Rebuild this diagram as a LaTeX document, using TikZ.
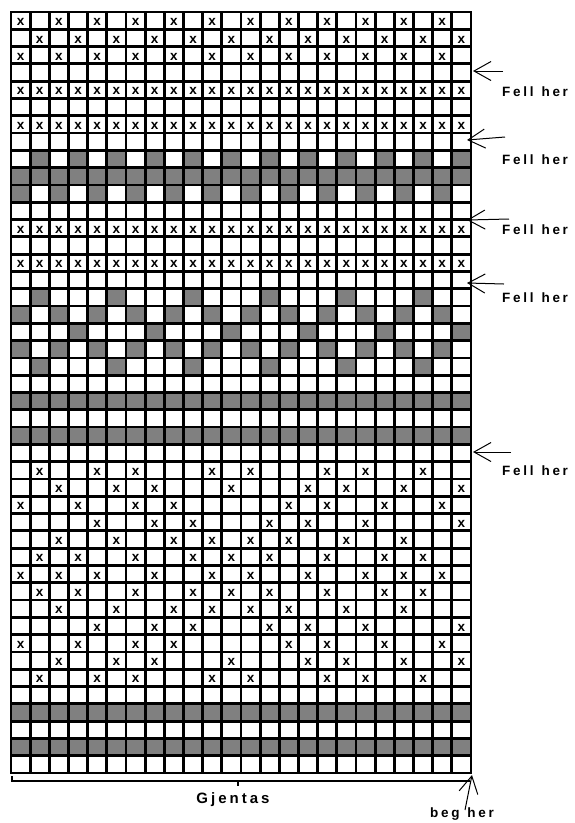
\documentclass[tikz,border=0pt]{standalone}
\usepackage{fontspec}
\setmainfont{Liberation Sans}
\newfontfamily\spaced{Liberation Sans}[LetterSpace=20]
\usetikzlibrary{arrows.meta}
\definecolor{cellgray}{HTML}{808080}
\def\xo{11}\def\yo{12}\def\cw{19.1667}\def\rh{17.295}
\begin{document}
\begin{tikzpicture}[x=1pt,y=-1pt,
  gridline/.style={line width=2.8pt,line cap=rect},
  xmark/.style={font=\bfseries\fontsize{13.5}{13.5}\selectfont,inner sep=0pt},
  lab/.style={font=\spaced\bfseries\fontsize{13.5}{13.5}\selectfont,inner sep=0pt},
  fellarrow/.style={line width=1pt,-{Straight Barb[length=17pt,width=19pt,line width=1pt]}},
  bracket/.style={line width=1.3pt}]
\useasboundingbox (0,0) rectangle (575,823);
\fill[white] (0,0) rectangle (575,823);
% gray cells
\foreach \r/\cl in {9/{2,4,...,24},10/{1,...,24},11/{1,3,...,23},
  17/{2,6,...,22},18/{1,3,...,23},19/{4,8,...,24},20/{1,3,...,23},21/{2,6,...,22},
  23/{1,...,24},25/{1,...,24},41/{1,...,24},43/{1,...,24}}
  \foreach \c in \cl
    \fill[cellgray] ({\xo+(\c-1)*\cw},{\yo+(\r-1)*\rh}) rectangle ++(\cw,\rh);
% x marks
\foreach \r/\cl in {1/{1,3,...,23},2/{2,4,...,24},3/{1,3,...,23},
  5/{1,...,24},7/{1,...,24},13/{1,...,24},15/{1,...,24},
  27/{2,5,7,11,13,17,19,22},28/{3,6,8,12,16,18,21,24},29/{1,4,7,9,15,17,20,23},
  30/{5,8,10,14,16,19,24},31/{3,6,9,11,13,15,18,21},32/{2,4,7,10,12,14,17,20,22},
  33/{1,3,5,8,11,13,16,19,21,23},34/{2,4,7,10,12,14,17,20,22},35/{3,6,9,11,13,15,18,21},
  36/{5,8,10,14,16,19,24},37/{1,4,7,9,15,17,20,23},38/{3,6,8,12,16,18,21,24},
  39/{2,5,7,11,13,17,19,22}}
  \foreach \c in \cl
    \node[xmark] (x\r-\c) at ({\xo+(\c-0.5)*\cw},{\yo+(\r-0.5)*\rh+1.5}) {x};
% grid
\foreach \i in {0,...,24}
  \draw[gridline] ({\xo+\i*\cw},\yo) -- ({\xo+\i*\cw},{\yo+44*\rh});
\foreach \j in {0,...,44}
  \draw[gridline] (\xo,{\yo+\j*\rh}) -- ({\xo+24*\cw},{\yo+\j*\rh});
% Fell her arrows and labels
\coordinate (s1) at (503,71);  \coordinate (e1) at (473,71);
\coordinate (s2) at (505,137); \coordinate (e2) at (467,140);
\coordinate (s3) at (509,219); \coordinate (e3) at (467,220);
\coordinate (s4) at (504,284); \coordinate (e4) at (467,283);
\coordinate (s5) at (511,452); \coordinate (e5) at (473,452);
\foreach \k in {1,...,5} \draw[fellarrow] (s\k) -- (e\k);
\node[lab,anchor=west] (f1) at (502,92) {Fell\hspace{8pt}her};
\node[lab,anchor=west] (f2) at (502,159.5) {Fell\hspace{8pt}her};
\node[lab,anchor=west] (f3) at (502,230) {Fell\hspace{8pt}her};
\node[lab,anchor=west] (f4) at (502,298) {Fell\hspace{8pt}her};
\node[lab,anchor=west] (f5) at (502,471) {Fell\hspace{8pt}her};
% bracket
\coordinate (bl) at (12,776); \coordinate (bl2) at (12,781);
\coordinate (br) at (470,781);
\coordinate (bm) at (238,781); \coordinate (bm2) at (238,786);
\draw[bracket] (bl) -- (bl2) -- (br);
\draw[bracket] (bm) -- (bm2);
\node[lab,font=\spaced\bfseries\fontsize{15}{15}\selectfont] (g) at (233,800) {Gjentas};
% beg her
\coordinate (bs) at (465,810); \coordinate (be) at (472,775);
\draw[fellarrow] (bs) -- (be);
\node[lab] (b) at (462,814) {beg\hspace{8pt}her};
\end{tikzpicture}
\end{document}
